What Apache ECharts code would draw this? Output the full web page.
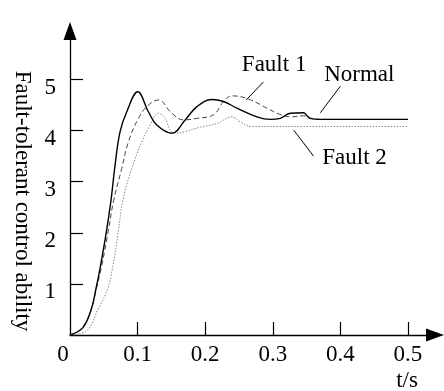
<!DOCTYPE html>
<html>
<head>
<meta charset="utf-8">
<script src="https://cdn.jsdelivr.net/npm/echarts@6/dist/echarts.min.js"></script>
<style>
  html, body { margin: 0; padding: 0; background: #fff; }
  #chart { width: 444px; height: 391px; }
</style>
</head>
<body>
<div id="chart"></div>
<script>
// Values: [t (s), ability]
const normal = [
  [0, 0], [0.0188, 0.14], [0.0311, 0.49], [0.0385, 0.91], [0.0449, 1.34],
  [0.0533, 1.98], [0.0607, 2.64], [0.0667, 3.33], [0.0741, 3.98], [0.084, 4.37],
  [0.1003, 4.76], [0.116, 4.37], [0.1284, 4.11], [0.1507, 3.95], [0.1704, 4.21],
  [0.1877, 4.47], [0.2099, 4.61], [0.2271, 4.57], [0.247, 4.44], [0.2766, 4.27],
  [0.2963, 4.22], [0.3111, 4.24], [0.3259, 4.34], [0.3456, 4.35], [0.3507, 4.29],
  [0.3556, 4.24], [0.3704, 4.22], [0.5, 4.22]
];
const fault1 = [
  [0, 0], [0.0178, 0.14], [0.0311, 0.49], [0.039, 0.91], [0.0467, 1.34],
  [0.0559, 1.98], [0.0647, 2.64], [0.0766, 3.26], [0.0864, 3.78], [0.1012, 4.24],
  [0.116, 4.5], [0.1308, 4.6], [0.1507, 4.34], [0.1679, 4.21], [0.1877, 4.24],
  [0.2123, 4.31], [0.2271, 4.57], [0.2396, 4.68], [0.2618, 4.63], [0.2914, 4.44],
  [0.3062, 4.34], [0.3259, 4.27], [0.3456, 4.29], [0.3556, 4.24], [0.3704, 4.22],
  [0.5, 4.22]
];
const fault2 = [
  [0, 0], [0.0237, 0.07], [0.041, 0.49], [0.0559, 0.91], [0.0633, 1.34],
  [0.071, 1.98], [0.0785, 2.65], [0.0914, 3.26], [0.1062, 3.78], [0.1185, 4.11],
  [0.1308, 4.34], [0.1407, 4.24], [0.1481, 4.01], [0.1556, 3.95], [0.1704, 3.98],
  [0.1877, 4.05], [0.2173, 4.14], [0.2396, 4.27], [0.2519, 4.17], [0.2692, 4.08],
  [0.5, 4.08]
];

const xTickLabels = [0, 0.1, 0.2, 0.3, 0.4, 0.5];
const xTicks = [0.1, 0.2, 0.3, 0.4, 0.5];
const yTicks = [1, 2, 3, 4, 5];

// annotation text: [name, text centre, leader start, leader end] in data units
const notes = [
  ['Fault 1', [0.302, 5.28], [0.286, 4.95], [0.2607, 4.6]],
  ['Normal', [0.428, 5.09], [0.40, 4.87], [0.3704, 4.35]],
  ['Fault 2', [0.421, 3.46], [0.331, 4.01], [0.3604, 3.5]]
];

const FONT = 'Liberation Serif';
const chart = echarts.init(document.getElementById('chart'));

const option = {
  backgroundColor: '#fff',
  animation: false,
  grid: { left: 70, right: 9, top: 31, bottom: 56 },
  xAxis: {
    type: 'value',
    min: 0,
    max: 0.54,
    axisLine: {
      lineStyle: { color: '#000', width: 1.3 },
      symbol: ['none', 'triangle'],
      symbolSize: [13, 18]
    },
    axisTick: { inside: true, length: 13, customValues: xTicks, lineStyle: { color: '#000', width: 1.2 } },
    axisLabel: {
      customValues: xTickLabels,
      margin: 8,
      fontFamily: FONT,
      fontSize: 23,
      color: '#000',
      formatter: v => (v === 0 ? '{z|0}' : String(v)),
      rich: { z: { fontFamily: FONT, fontSize: 23, color: '#000', padding: [0, 14, 0, 0] } }
    },
    splitLine: { show: false }
  },
  yAxis: {
    type: 'value',
    min: 0,
    max: 5.95,
    axisLine: {
      show: true,
      lineStyle: { color: '#000', width: 1.3 },
      symbol: ['none', 'triangle'],
      symbolSize: [13, 18]
    },
    axisTick: { show: true, inside: true, length: 13, customValues: yTicks, lineStyle: { color: '#000', width: 1.2 } },
    axisLabel: {
      customValues: yTicks,
      margin: 14,
      fontFamily: FONT,
      fontSize: 23,
      color: '#000',
      verticalAlign: 'top',
      lineHeight: 17
    },
    splitLine: { show: false }
  },
  series: [
    {
      name: 'Normal', type: 'line', data: normal, showSymbol: false, smooth: 0.4,
      lineStyle: { color: '#000', width: 1.4 }, z: 3
    },
    {
      name: 'Fault 1', type: 'line', data: fault1, showSymbol: false, smooth: 0.4,
      lineStyle: { color: '#444', width: 1, type: [5, 3] }, z: 2
    },
    {
      name: 'Fault 2', type: 'line', data: fault2, showSymbol: false, smooth: 0.4,
      lineStyle: { color: '#888', width: 1, type: [1.5, 1.5] }, z: 1
    }
  ]
};
chart.setOption(option);

const graphics = [
  {
    type: 'text', x: 22, y: 201, rotation: -Math.PI / 2,
    style: { text: 'Fault-tolerant control ability', font: '23px "' + FONT + '"', fill: '#000', align: 'center', verticalAlign: 'middle' }
  },
  {
    type: 'text', x: 407, y: 381,
    style: { text: 't/s', font: '23px "' + FONT + '"', fill: '#000', align: 'center', verticalAlign: 'middle' }
  }
];
notes.forEach(([label, pos, from, to]) => {
  const p = chart.convertToPixel({ gridIndex: 0 }, pos);
  const a = chart.convertToPixel({ gridIndex: 0 }, from);
  const b = chart.convertToPixel({ gridIndex: 0 }, to);
  graphics.push({
    type: 'text', x: p[0], y: p[1],
    style: { text: label, font: '23px "' + FONT + '"', fill: '#000', align: 'center', verticalAlign: 'middle' }
  });
  graphics.push({
    type: 'line', shape: { x1: a[0], y1: a[1], x2: b[0], y2: b[1] },
    style: { stroke: '#000', lineWidth: 1 }
  });
});
chart.setOption({ graphic: graphics });
</script>
</body>
</html>
